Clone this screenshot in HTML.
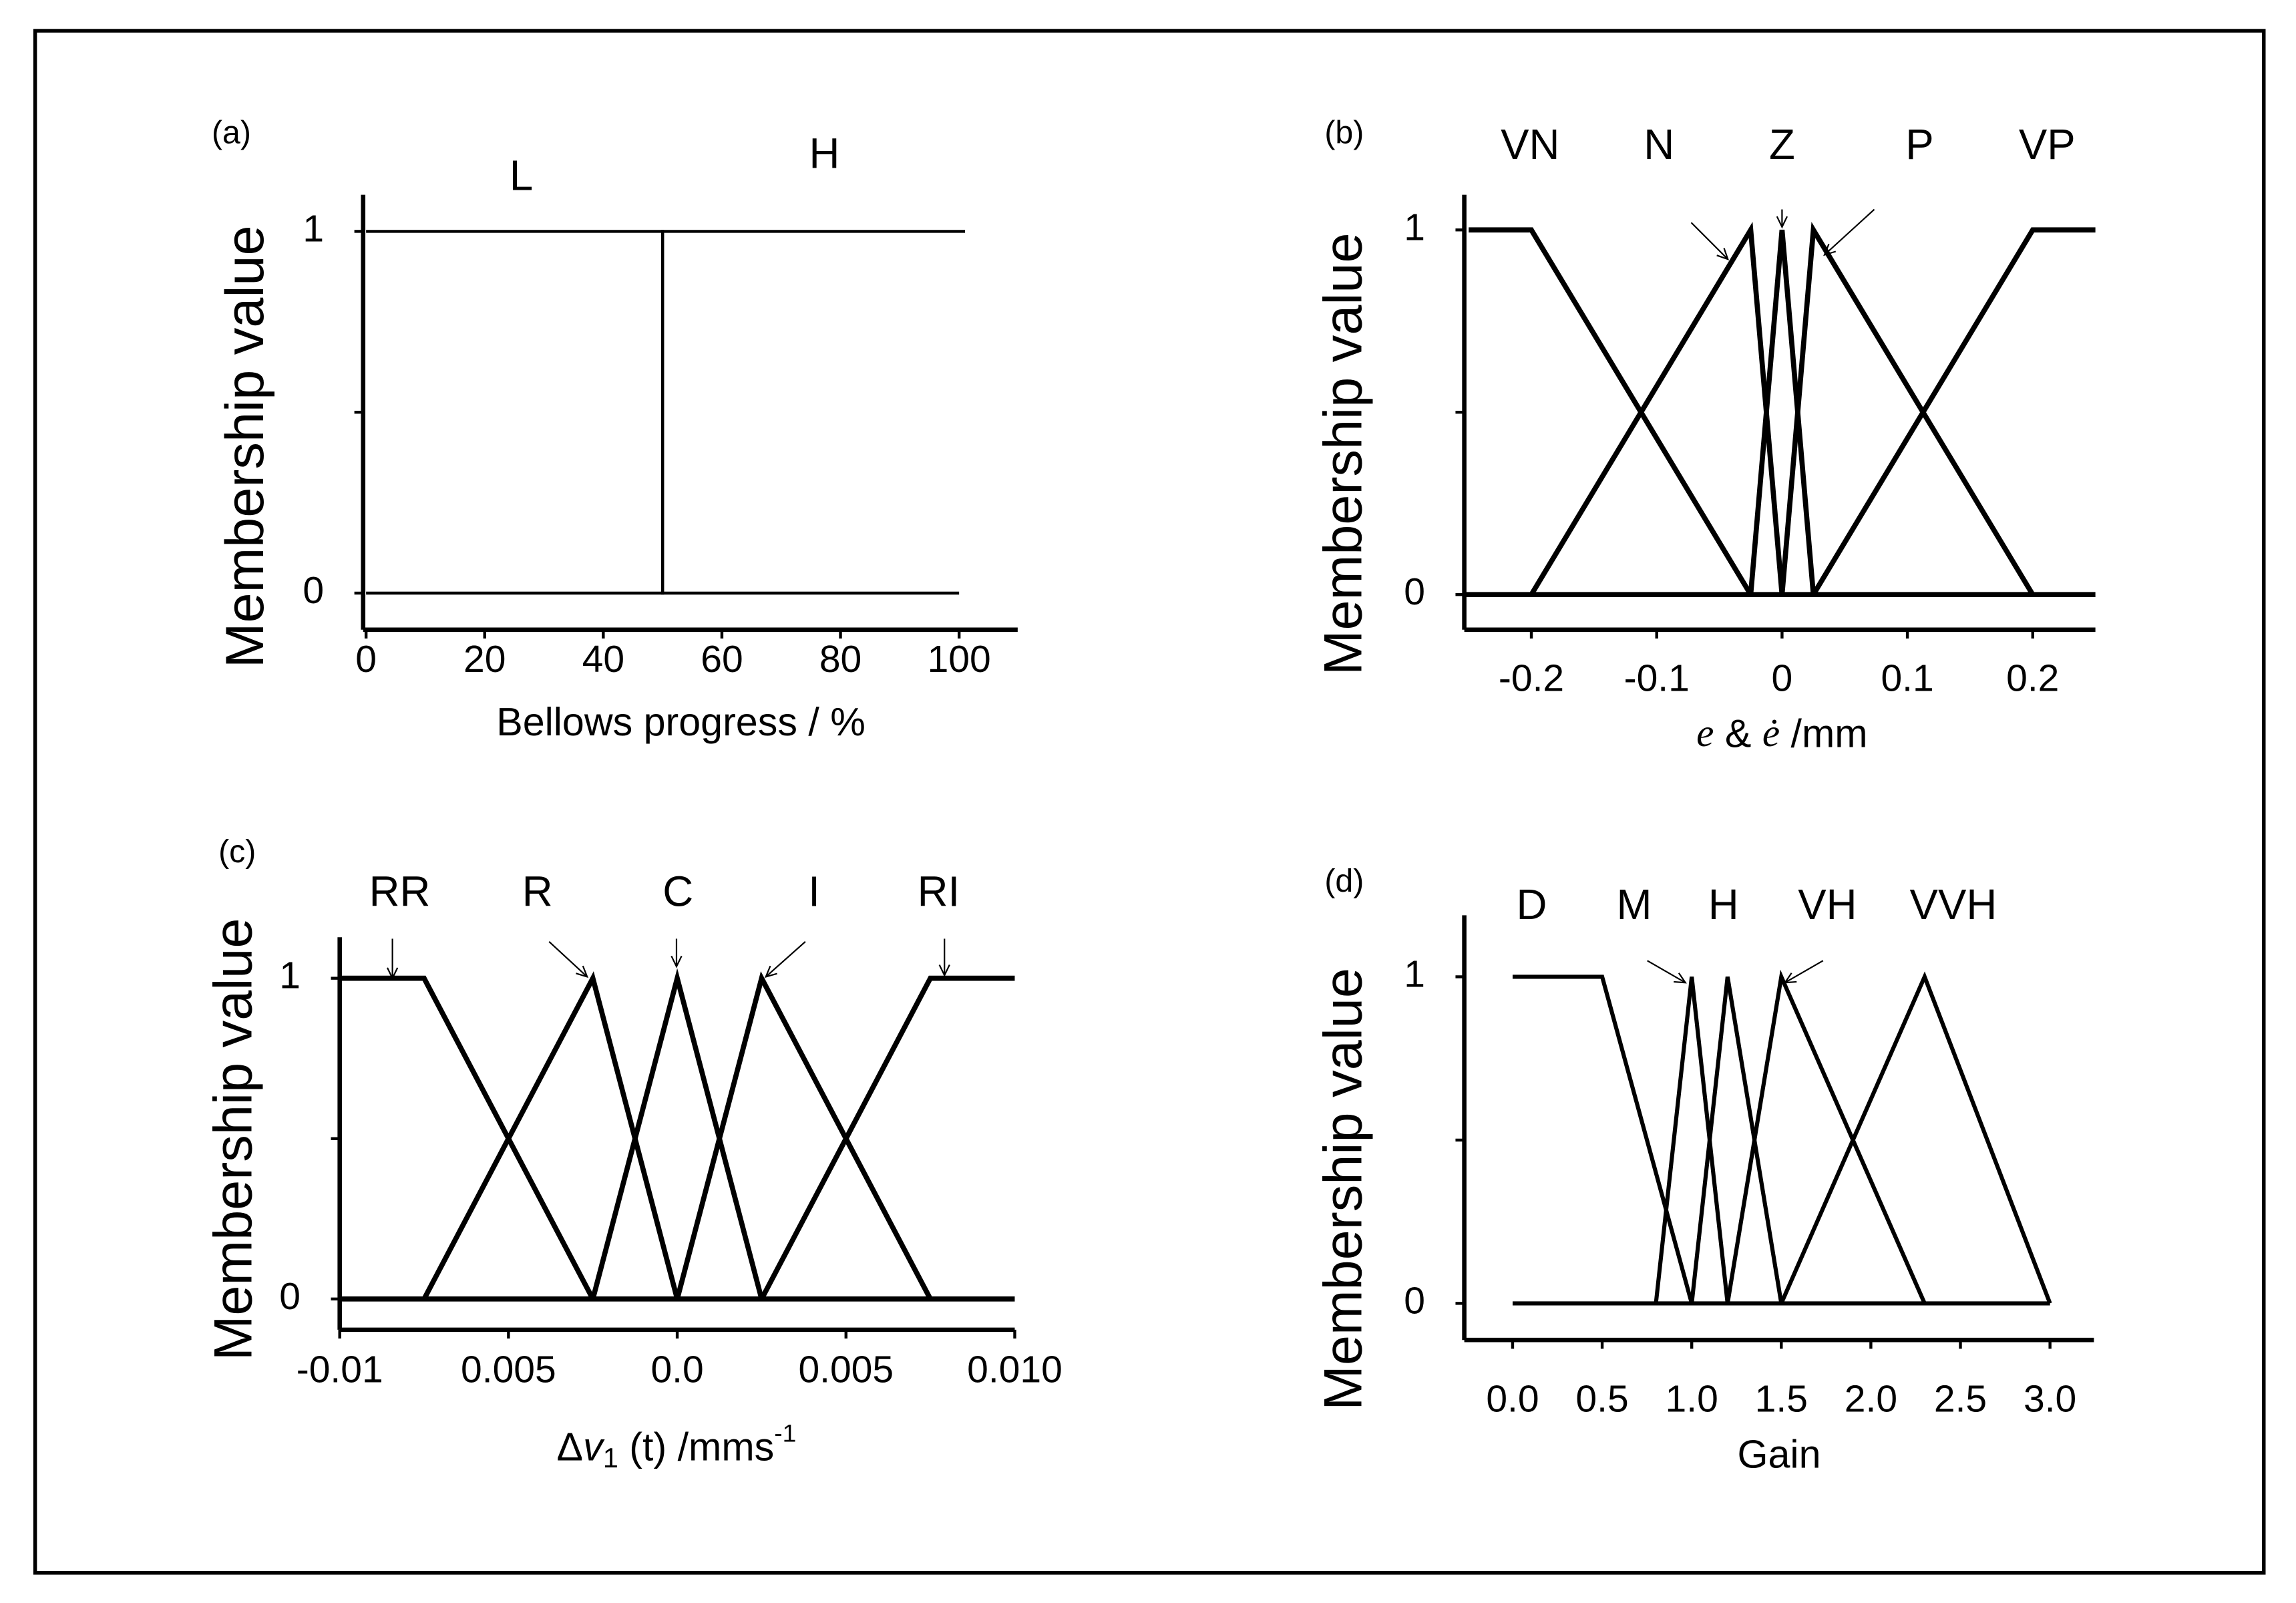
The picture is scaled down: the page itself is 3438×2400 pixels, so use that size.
<!DOCTYPE html>
<html><head><meta charset="utf-8"><style>
html,body{margin:0;padding:0;background:#fff;}
svg{display:block;}
text{font-family:"Liberation Sans",sans-serif;fill:#000;}
</style></head><body>
<svg id="fig" width="3438" height="2400" viewBox="0 0 1568 1094.6" preserveAspectRatio="none" xmlns="http://www.w3.org/2000/svg">
<rect x="24" y="21" width="1522" height="1053" fill="#fff" stroke="#000" stroke-width="2.5"/>
<g id="root"></g>
</svg>
<script>
// Panel (a)
const aTicks = [0,20,40,60,80,100];
const aLSeries = [[0,1],[50,1],[50,0],[100,0]];
const aHSeries = [[0,0],[50,0],[50,1],[101,1]];
// Panel (b)
const bTicks = [-0.2,-0.1,0,0.1,0.2];
const bTickLabels = ["-0.2","-0.1","0","0.1","0.2"];
const bVN = [[-0.25,1],[-0.2,1],[-0.025,0]];
const bN = [[-0.2,0],[-0.025,1],[0,0]];
const bZ = [[-0.025,0],[0,1],[0.025,0]];
const bP = [[0,0],[0.025,1],[0.2,0]];
const bVP = [[0.025,0],[0.2,1],[0.25,1]];
const bNames = ["VN","N","Z","P","VP"];
// Panel (c)
const cTicks = [-0.01,-0.005,0,0.005,0.01];
const cTickLabels = ["-0.01","0.005","0.0","0.005","0.010"];
const cRR = [[-0.01,1],[-0.0075,1],[-0.0025,0]];
const cR = [[-0.0075,0],[-0.0025,1],[0,0]];
const cC = [[-0.0025,0],[0,1],[0.0025,0]];
const cI = [[0,0],[0.0025,1],[0.0075,0]];
const cRI = [[0.0025,0],[0.0075,1],[0.01,1]];
const cNames = ["RR","R","C","I","RI"];
// Panel (d)
const dTicks = [0,0.5,1,1.5,2,2.5,3];
const dTickLabels = ["0.0","0.5","1.0","1.5","2.0","2.5","3.0"];
const dD = [[0,1],[0.5,1],[1.0,0]];
const dM = [[0.8,0],[1.0,1],[1.2,0]];
const dH = [[1.0,0],[1.2,1],[1.5,0]];
const dVH = [[1.2,0],[1.5,1],[2.3,0]];
const dVVH = [[1.5,0],[2.3,1],[3.0,0]];
const dNames = ["D","M","H","VH","VVH"];

const NS="http://www.w3.org/2000/svg";
const root=document.getElementById('root');
function mk(tag,attrs,parent){const e=document.createElementNS(NS,tag);for(const k in attrs)e.setAttribute(k,attrs[k]);(parent||root).appendChild(e);return e;}
function lin(d0,d1,r0,r1){return v=>r0+(v-d0)/(d1-d0)*(r1-r0);}
function txt(x,y,s,size,anchor,parent){const t=mk('text',{x:x,y:y,'font-size':size,'text-anchor':anchor||'middle','dominant-baseline':'middle'},parent);t.textContent=s;return t;}
function series(pts,sx,sy,w,name,g){
  const p=mk('polyline',{points:pts.map(q=>sx(q[0])+','+sy(q[1])).join(' '),fill:'none',stroke:'#000','stroke-width':w,'stroke-linejoin':'miter'},g);
  
  
}
function arrow(x1,y1,x2,y2,g,name){
  const a=mk('g',{},g);
  
  
  mk('line',{x1:x1,y1:y1,x2:x2,y2:y2,stroke:'#000','stroke-width':1},a);
  const ang=Math.atan2(y2-y1,x2-x1),L=8,s=0.45;
  mk('polyline',{points:(x2-L*Math.cos(ang-s))+','+(y2-L*Math.sin(ang-s))+' '+x2+','+y2+' '+(x2-L*Math.cos(ang+s))+','+(y2-L*Math.sin(ang+s)),fill:'none',stroke:'#000','stroke-width':1},a);
}
function axes(g,ax,ayTop,ayBot,xEnd,sy,ticksX,sx,labels,tickY,lw){
  const yl=mk('line',{x1:ax,y1:ayTop,x2:ax,y2:ayBot,stroke:'#000','stroke-width':lw},g);
  
  
  const xl=mk('line',{x1:ax,y1:ayBot,x2:xEnd,y2:ayBot,stroke:'#000','stroke-width':lw},g);
  
  
  [0,0.5,1].forEach(v=>mk('line',{x1:ax-6,y1:sy(v),x2:ax,y2:sy(v),stroke:'#000','stroke-width':2},g));
  const t1=txt(ax-34,sy(1),"1",26,'middle',g);
  
  
  const t0=txt(ax-34,sy(0),"0",26,'middle',g);
  
  
  ticksX.forEach((v,i)=>{
    mk('line',{x1:sx(v),y1:ayBot,x2:sx(v),y2:ayBot+6,stroke:'#000','stroke-width':2},g);
    const t=txt(sx(v),tickY,labels[i],26,'middle',g);
    
    
  });
}
function ylabel(x,y,g){
  const t=mk('text',{x:0,y:0,'font-size':37,'text-anchor':'middle','dominant-baseline':'middle',transform:'translate('+x+','+y+') rotate(-90)'},g);
  t.textContent='Membership value';
  
  
}
function named(el,n){return el;}

// ---- Panel a
{
const g=mk('g',{});named(g,'panel-a');
const sx=lin(0,100,250,655), sy=lin(0,1,405,158);
axes(g,248,133,430,695,sy,aTicks,sx,aTicks.map(String),452,3);
series(aLSeries,sx,sy,2,'series-l',g);
series(aHSeries,sx,sy,2,'series-h',g);
named(txt(158,92,"(a)",22,'middle',g),'panel-label-a');
named(txt(356,122,"L",29,'middle',g),'label-l');
named(txt(563,107,"H",29,'middle',g),'label-h');
named(txt(465,495,"Bellows progress / %",27,'middle',g),'x-axis-title');
ylabel(170,305,g);
}
// ---- Panel b
{
const g=mk('g',{});named(g,'panel-b');
const sx=lin(-0.25,0.25,1003,1431), sy=lin(0,1,406,157);
axes(g,1000,133,430,1431,sy,bTicks,sx,bTickLabels,465,3);
mk('line',{x1:1000,y1:sy(0),x2:1431,y2:sy(0),stroke:'#000','stroke-width':3.5},g);
[bVN,bN,bZ,bP,bVP].forEach((s,i)=>series(s,sx,sy,3.5,'series-'+bNames[i].toLowerCase(),g));
const lx=[1045,1133,1217,1311,1398];
bNames.forEach((n,i)=>named(txt(lx[i],101,n,29,'middle',g),'label-'+n.toLowerCase()));
named(txt(918,92,"(b)",22,'middle',g),'panel-label-b');
arrow(1155,152,1180,177,g,'arrow-n');
arrow(1217,143,1217,155,g,'arrow-z');
arrow(1280,143,1246,174,g,'arrow-p');
const xt=mk('text',{x:1217,y:503,'font-size':27,'text-anchor':'middle','dominant-baseline':'middle'},g);
xt.innerHTML='<tspan font-style="italic" font-family="Liberation Serif">e</tspan> &amp; <tspan font-style="italic" font-family="Liberation Serif">ė</tspan> /mm';
named(xt,'x-axis-title');
ylabel(920,310,g);
}
// ---- Panel c
{
const g=mk('g',{});named(g,'panel-c');
const sx=lin(-0.01,0.01,232,693), sy=lin(0,1,887,668);
axes(g,232,640,908,693,sy,cTicks,sx,cTickLabels,937,3);
mk('line',{x1:232,y1:sy(0),x2:693,y2:sy(0),stroke:'#000','stroke-width':3.5},g);
[cRR,cR,cC,cI,cRI].forEach((s,i)=>series(s,sx,sy,3.5,'series-'+cNames[i].toLowerCase(),g));
const lx=[273,367,463,556,641];
cNames.forEach((n,i)=>named(txt(lx[i],611,n,29,'middle',g),'label-'+n.toLowerCase()));
named(txt(162,583,"(c)",22,'middle',g),'panel-label-c');
arrow(268,641,268,668,g,'arrow-rr');
arrow(375,643,401,667,g,'arrow-r');
arrow(462,641,462,660,g,'arrow-c');
arrow(550,643,523,667,g,'arrow-i');
arrow(645,641,645,666,g,'arrow-ri');
const xt=mk('text',{x:462,y:990,'font-size':27,'text-anchor':'middle','dominant-baseline':'middle'},g);
xt.innerHTML='Δ<tspan font-style="italic">v</tspan><tspan font-size="19" dy="7">1</tspan><tspan dy="-7"> (t) /mms</tspan><tspan font-size="17" dy="-10">-1</tspan>';
named(xt,'x-axis-title');
ylabel(162,778,g);
}
// ---- Panel d
{
const g=mk('g',{});named(g,'panel-d');
const sx=lin(0,3,1033,1400), sy=lin(0,1,890,667);
axes(g,1000,625,915,1430,sy,dTicks,sx,dTickLabels,957,3);
[dD,dM,dH,dVH,dVVH].forEach((s,i)=>series(s,sx,sy,2.8,'series-'+dNames[i].toLowerCase(),g));
mk('line',{x1:sx(0),y1:sy(0),x2:sx(3),y2:sy(0),stroke:'#000','stroke-width':2.8},g);
const lx=[1046,1116,1177,1248,1334];
dNames.forEach((n,i)=>named(txt(lx[i],620,n,29,'middle',g),'label-'+n.toLowerCase()));
named(txt(918,603,"(d)",22,'middle',g),'panel-label-d');
arrow(1125,656,1151,671,g,'arrow-m');
arrow(1245,656,1219,671,g,'arrow-vh');
named(txt(1215,995,"Gain",27,'middle',g),'x-axis-title');
ylabel(920,812,g);
}
</script>
</body></html>
